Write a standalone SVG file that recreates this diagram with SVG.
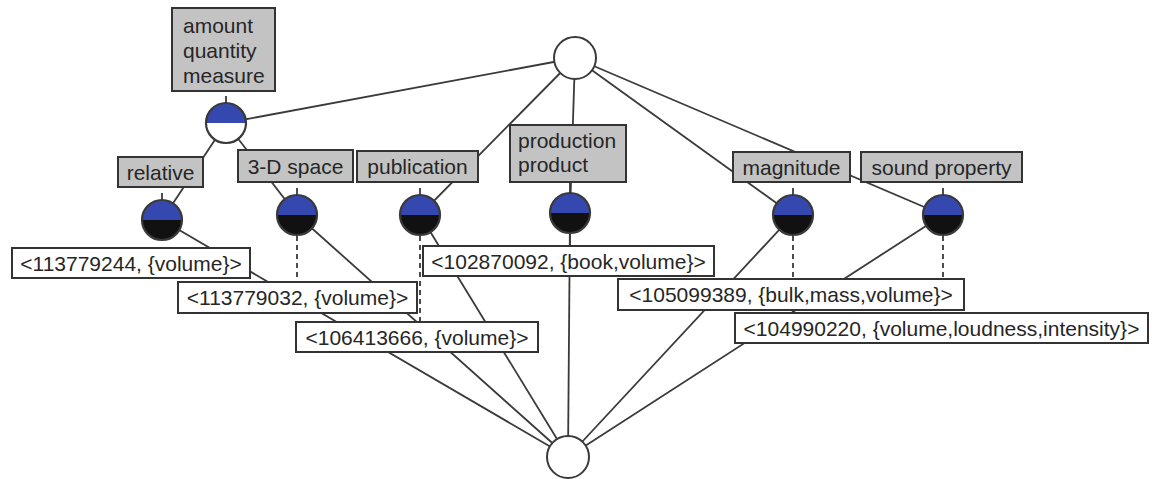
<svg xmlns="http://www.w3.org/2000/svg" xmlns:xlink="http://www.w3.org/1999/xlink" width="1152" height="479" viewBox="0 0 1152 479">
<style>
.edge{stroke:#3a3a3a;stroke-width:1.8;fill:none}
.dash{stroke:#3a3a3a;stroke-width:1.8;fill:none;stroke-dasharray:5 4}
.tick{stroke:#3a3a3a;stroke-width:1.8}
.attr{fill:#c3c3c3;stroke:#333;stroke-width:2}
.obj{fill:#fff;stroke:#333;stroke-width:2}
.ring{fill:none;stroke:#3a3a3a;stroke-width:2.2}
.plain{fill:#fff;stroke:#3a3a3a;stroke-width:2}
text{font-family:"Liberation Sans",Arial,sans-serif;font-size:21px;fill:#262626}
.c{text-anchor:middle}
</style>
<defs>
<g id="bb">
<path d="M-20,0 A20,20 0 0 1 20,0 Z" fill="#3548b0"/>
<path d="M-20,0 A20,20 0 0 0 20,0 Z" fill="#111"/>
<circle r="20" class="ring"/>
</g>
<g id="bw">
<path d="M-20,0 A20,20 0 0 1 20,0 Z" fill="#3548b0"/>
<path d="M-20,0 A20,20 0 0 0 20,0 Z" fill="#fff"/>
<circle r="20" class="ring"/>
</g>
</defs>
<rect width="1152" height="479" fill="#fff"/>
<g id="connectors">
<line class="edge" x1="575" y1="58" x2="226" y2="123"/>
<line class="edge" x1="575" y1="58" x2="420" y2="215"/>
<line class="edge" x1="575" y1="58" x2="570" y2="213"/>
<line class="edge" x1="575" y1="58" x2="793" y2="215"/>
<line class="edge" x1="575" y1="58" x2="943" y2="215"/>
<line class="edge" x1="226" y1="123" x2="162" y2="220"/>
<line class="edge" x1="226" y1="123" x2="297" y2="215"/>
<line class="edge" x1="162" y1="220" x2="568" y2="457"/>
<line class="edge" x1="297" y1="215" x2="568" y2="457"/>
<line class="edge" x1="420" y1="215" x2="568" y2="457"/>
<line class="edge" x1="570" y1="213" x2="568" y2="457"/>
<line class="edge" x1="793" y1="215" x2="568" y2="457"/>
<line class="edge" x1="943" y1="215" x2="568" y2="457"/>
<line class="tick" x1="226" y1="96" x2="226" y2="103"/>
<line class="tick" x1="162" y1="193" x2="162" y2="200"/>
<line class="tick" x1="297" y1="188" x2="297" y2="195"/>
<line class="tick" x1="420" y1="188" x2="420" y2="195"/>
<line class="tick" x1="793" y1="188" x2="793" y2="195"/>
<line class="tick" x1="943" y1="188" x2="943" y2="195"/>
<line class="tick" x1="570" y1="182" x2="570" y2="193"/>
<line class="tick" x1="570" y1="233" x2="570" y2="246"/>
<line class="dash" x1="297" y1="236" x2="297" y2="282"/>
<line class="dash" x1="420" y1="236" x2="420" y2="322"/>
<line class="dash" x1="793" y1="236" x2="793" y2="313"/>
<line class="dash" x1="943" y1="236" x2="943" y2="279"/>
</g>
<g id="node-top"><circle cx="575" cy="58" r="21" class="plain"/></g>
<g id="node-bottom"><circle cx="568" cy="457" r="21" class="plain"/></g>
<g id="node-amount">
<use xlink:href="#bw" href="#bw" transform="translate(226,123)"/>
<rect class="attr" x="172" y="8" width="103" height="83"/>
<text x="183" y="33">amount</text>
<text x="183" y="58">quantity</text>
<text x="183" y="83">measure</text>
</g>
<g id="node-relative">
<use xlink:href="#bb" href="#bb" transform="translate(162,220)"/>
<rect class="attr" x="118" y="157" width="85" height="30"/>
<text class="c" x="160.5" y="179.5">relative</text>
<rect class="obj" x="12" y="248" width="238" height="30"/>
<text class="c" x="131" y="270.5">&lt;113779244, {volume}&gt;</text>
</g>
<g id="node-3d">
<use xlink:href="#bb" href="#bb" transform="translate(297,215)"/>
<rect class="attr" x="238" y="150" width="115" height="32"/>
<text class="c" x="295.5" y="173.5">3-D space</text>
<rect class="obj" x="178" y="282" width="239" height="31"/>
<text class="c" x="297.5" y="305">&lt;113779032, {volume}&gt;</text>
</g>
<g id="node-publication">
<use xlink:href="#bb" href="#bb" transform="translate(420,215)"/>
<rect class="attr" x="357" y="151" width="121" height="31"/>
<text class="c" x="417.5" y="174">publication</text>
<rect class="obj" x="296" y="322" width="242" height="30"/>
<text class="c" x="417" y="344.5">&lt;106413666, {volume}&gt;</text>
</g>
<g id="node-production">
<use xlink:href="#bb" href="#bb" transform="translate(570,213)"/>
<rect class="attr" x="510" y="125" width="116" height="57"/>
<text x="518" y="148">production</text>
<text x="518" y="172">product</text>
<rect class="obj" x="423" y="246" width="291" height="30"/>
<text class="c" x="568.5" y="268.5">&lt;102870092, {book,volume}&gt;</text>
</g>
<g id="node-magnitude">
<use xlink:href="#bb" href="#bb" transform="translate(793,215)"/>
<rect class="attr" x="733" y="152" width="117" height="30"/>
<text class="c" x="791.5" y="174.5">magnitude</text>
<rect class="obj" x="735" y="313" width="413" height="30"/>
<text class="c" x="941.5" y="335.5">&lt;104990220, {volume,loudness,intensity}&gt;</text>
</g>
<g id="node-sound">
<use xlink:href="#bb" href="#bb" transform="translate(943,215)"/>
<rect class="attr" x="861" y="152" width="161" height="30"/>
<text class="c" x="941.5" y="174.5">sound property</text>
<rect class="obj" x="618" y="279" width="346" height="31"/>
<text class="c" x="791" y="302">&lt;105099389, {bulk,mass,volume}&gt;</text>
</g>
</svg>
